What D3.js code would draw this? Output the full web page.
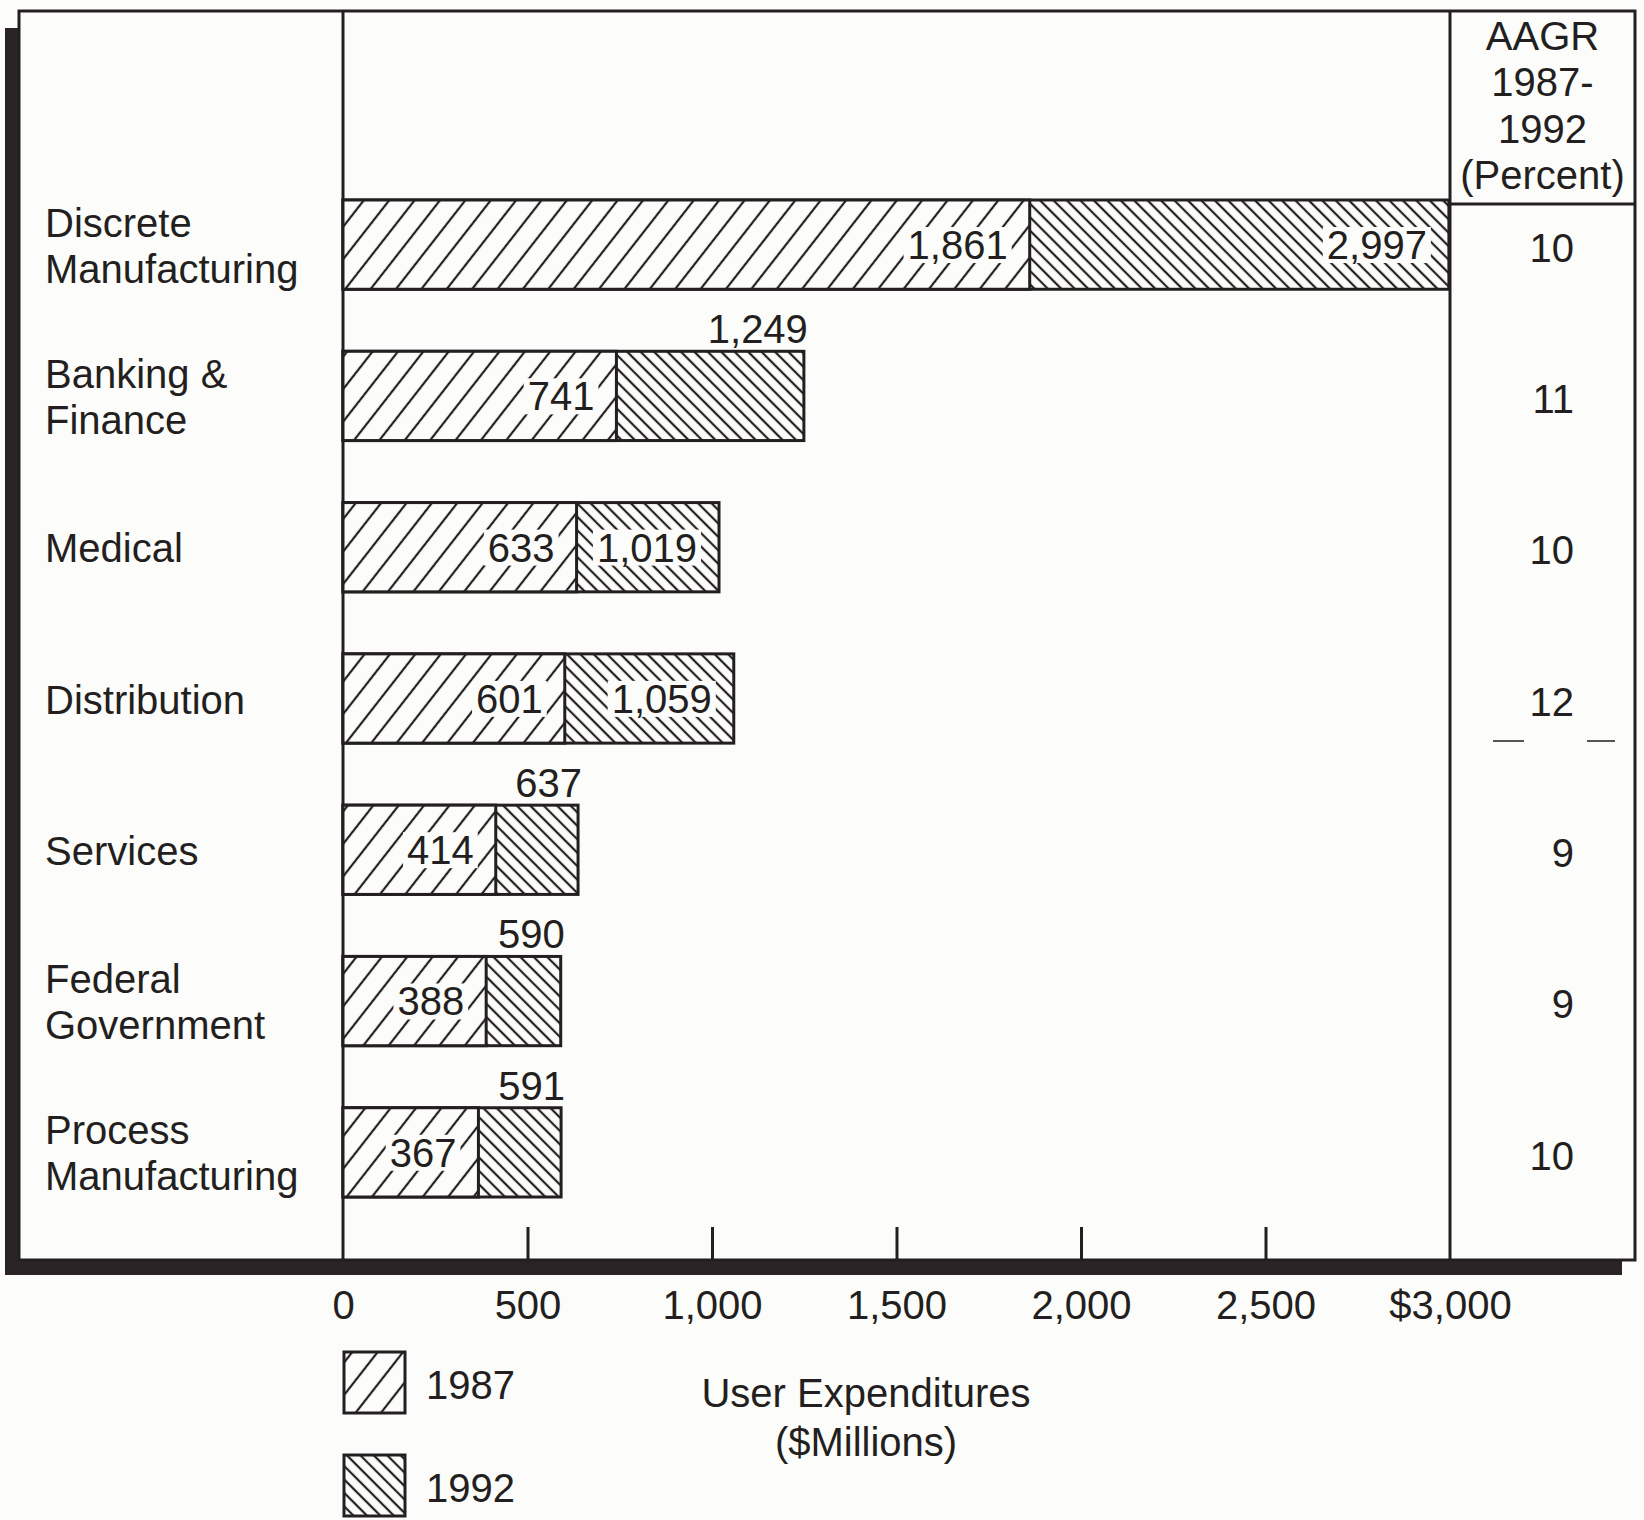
<!DOCTYPE html>
<html>
<head>
<meta charset="utf-8">
<script src="https://cdn.jsdelivr.net/npm/d3@7"></script>
<style>
  body { margin: 0; background: #fcfcfa; }
  text { font-family: "Liberation Sans", Arial, sans-serif; fill: #231f20; }
</style>
</head>
<body>
<script>
var width = 1644,
    height = 1520

// data
var categories = ['Discrete Manufacturing', 'Banking & Finance', 'Medical', 'Distribution',
                  'Services', 'Federal Government', 'Process Manufacturing']
var labelLines = [['Discrete', 'Manufacturing'], ['Banking &', 'Finance'], ['Medical'], ['Distribution'],
                  ['Services'], ['Federal', 'Government'], ['Process', 'Manufacturing']]
var values1987 = [1861, 741, 633, 601, 414, 388, 367]
var values1992 = [2997, 1249, 1019, 1059, 637, 590, 591]
var aagr = [10, 11, 10, 12, 9, 9, 10]
var aagrHeader = ['AAGR', '1987-', '1992', '(Percent)']
var tickValues = [0, 500, 1000, 1500, 2000, 2500, 3000]
var tickLabels = ['0', '500', '1,000', '1,500', '2,000', '2,500', '$3,000']
var years = ['1987', '1992']
var axisTitle = ['User Expenditures', '($Millions)']
// 1992 totals printed above the bar instead of inside
var totalAbove = ['Banking & Finance', 'Services', 'Federal Government', 'Process Manufacturing']

var ink = '#231f20',
    paper = '#fcfcfa'
var fmt = d3.format(',')

var svg = d3.select('body')
            .append('svg')
            .attr('width', width)
            .attr('height', height)

// hatch patterns (opaque paper background so bars don't cross-hatch)
var defs = svg.append('defs')
function hatch(id, gap, angle) {
    var p = defs.append('pattern')
        .attr('id', id)
        .attr('patternUnits', 'userSpaceOnUse')
        .attr('width', gap)
        .attr('height', gap)
        .attr('patternTransform', 'rotate(' + angle + ')')
    p.append('rect')
        .attr('x', -1).attr('y', -1)
        .attr('width', gap + 2).attr('height', gap + 2)
        .attr('fill', paper)
    p.append('line')
        .attr('x1', gap / 2).attr('y1', -1)
        .attr('x2', gap / 2).attr('y2', gap + 1)
        .attr('stroke', ink)
        .attr('stroke-width', 2.2)
}
hatch('h1987', 20, 38)
hatch('h1992', 9.5, -45)
var fills = ['url(#h1987)', 'url(#h1992)']

// frame with drop shadow (bottom-left)
svg.append('rect')
    .attr('x', 5).attr('y', 28)
    .attr('width', 1617).attr('height', 1247)
    .attr('fill', '#2b2427')
svg.append('rect')
    .attr('x', 19).attr('y', 11)
    .attr('width', 1616).attr('height', 1249)
    .attr('fill', paper)
    .attr('stroke', ink)
    .attr('stroke-width', 3)

var x = d3.scaleLinear()
    .domain([0, 3000])
    .range([343, 1450])

var y = d3.scaleBand()
    .domain(categories)
    .range([200, 1197])
    .paddingInner(0.41)
    .paddingOuter(0)

// column dividers
svg.append('line')
    .attr('x1', x(0)).attr('x2', x(0))
    .attr('y1', 11).attr('y2', 1260)
    .attr('stroke', ink).attr('stroke-width', 3)
svg.append('line')
    .attr('x1', x(3000)).attr('x2', x(3000))
    .attr('y1', 11).attr('y2', 1260)
    .attr('stroke', ink).attr('stroke-width', 3)
svg.append('line')
    .attr('x1', x(3000)).attr('x2', 1635)
    .attr('y1', 204).attr('y2', 204)
    .attr('stroke', ink).attr('stroke-width', 3)

// tick marks inside the frame
var tickAxis = svg.append('g')
    .attr('transform', 'translate(0,1260)')
    .call(d3.axisTop(x).tickValues(tickValues.slice(1, -1)).tickSize(33).tickFormat(''))
tickAxis.select('.domain').remove()
tickAxis.selectAll('line').attr('stroke', ink).attr('stroke-width', 3)

// tick labels below the frame
var labelAxis = svg.append('g')
    .attr('transform', 'translate(0,1260)')
    .call(d3.axisBottom(x).tickValues(tickValues).tickSize(0).tickPadding(31)
        .tickFormat(function(d, i) { return tickLabels[i] }))
labelAxis.select('.domain').remove()
labelAxis.selectAll('text')
    .attr('fill', ink)
    .style('font-size', '40px')
    .style('font-family', '"Liberation Sans", Arial, sans-serif')

// category labels
var catG = svg.append('g')
categories.forEach(function(c, i) {
    var lines = labelLines[i]
    var cy = y(c) + y.bandwidth() / 2
    var first = lines.length == 1 ? cy + 15 : cy - 8
    var t = catG.append('text')
        .attr('x', 45)
        .style('font-size', '40px')
    lines.forEach(function(l, j) {
        t.append('tspan')
            .attr('x', 45)
            .attr('y', first + j * 46)
            .text(l)
    })
})

// bars: 1992 total behind, 1987 in front
var rows = categories.map(function(c, i) {
    return {cat: c, v87: values1987[i], v92: values1992[i], aagr: aagr[i]}
})

var barG = svg.append('g')
barG.selectAll('.b92')
    .data(rows)
    .enter()
    .append('rect')
    .attr('class', 'b92')
    .attr('x', x(0))
    .attr('y', (d) => y(d.cat))
    .attr('width', (d) => x(d.v92) - x(0))
    .attr('height', y.bandwidth())
    .attr('fill', fills[1])
    .attr('stroke', ink)
    .attr('stroke-width', 3)
barG.selectAll('.b87')
    .data(rows)
    .enter()
    .append('rect')
    .attr('class', 'b87')
    .attr('x', x(0))
    .attr('y', (d) => y(d.cat))
    .attr('width', (d) => x(d.v87) - x(0))
    .attr('height', y.bandwidth())
    .attr('fill', fills[0])
    .attr('stroke', ink)
    .attr('stroke-width', 3)

// value labels inside bars get a paper patch behind them
function innerLabel(xr, cy, txt) {
    var g = svg.append('g')
    var t = g.append('text')
        .attr('x', xr)
        .attr('y', cy)
        .attr('dy', '0.36em')
        .attr('text-anchor', 'end')
        .style('font-size', '40px')
        .text(txt)
    var bb = t.node().getBBox()
    g.insert('rect', 'text')
        .attr('x', bb.x - 4)
        .attr('y', bb.y + 4)
        .attr('width', bb.width + 8)
        .attr('height', bb.height - 8)
        .attr('fill', paper)
}

rows.forEach(function(d) {
    var cy = y(d.cat) + y.bandwidth() / 2
    innerLabel(x(d.v87) - 22, cy, fmt(d.v87))
    if (totalAbove.indexOf(d.cat) >= 0) {
        svg.append('text')
            .attr('x', x(d.v92) + 4)
            .attr('y', y(d.cat) - 8)
            .attr('text-anchor', 'end')
            .style('font-size', '40px')
            .text(fmt(d.v92))
    } else {
        innerLabel(x(d.v92) - 22, cy, fmt(d.v92))
    }
})

// AAGR column
var colX = (x(3000) + 1635) / 2
svg.append('g')
    .selectAll('text')
    .data(aagrHeader)
    .enter()
    .append('text')
    .attr('x', colX)
    .attr('y', (d, i) => 50 + i * 46.3)
    .attr('text-anchor', 'middle')
    .style('font-size', '40px')
    .text((d) => d)

svg.append('g')
    .selectAll('text')
    .data(rows)
    .enter()
    .append('text')
    .attr('x', 1574)
    .attr('y', (d) => y(d.cat) + y.bandwidth() / 2 + 2)
    .attr('dy', '0.38em')
    .attr('text-anchor', 'end')
    .style('font-size', '40px')
    .text((d) => d.aagr)

// small dashes under the 12 (as printed)
svg.append('line')
    .attr('x1', 1493).attr('x2', 1524).attr('y1', 741).attr('y2', 741)
    .attr('stroke', '#555').attr('stroke-width', 2)
svg.append('line')
    .attr('x1', 1587).attr('x2', 1615).attr('y1', 741).attr('y2', 741)
    .attr('stroke', '#555').attr('stroke-width', 2)

// legend
var leg = svg.append('g')
years.forEach(function(yr, i) {
    var top = 1352 + i * 103
    leg.append('rect')
        .attr('x', 344).attr('y', top)
        .attr('width', 61).attr('height', 61)
        .attr('fill', fills[i])
        .attr('stroke', ink)
        .attr('stroke-width', 3)
    leg.append('text')
        .attr('x', 426)
        .attr('y', top + 33)
        .attr('dy', '0.36em')
        .style('font-size', '40px')
        .text(yr)
})

// axis title
svg.append('g')
    .selectAll('text')
    .data(axisTitle)
    .enter()
    .append('text')
    .attr('x', 866)
    .attr('y', (d, i) => 1407 + i * 49)
    .attr('text-anchor', 'middle')
    .style('font-size', '40px')
    .text((d) => d)
</script>
</body>
</html>
